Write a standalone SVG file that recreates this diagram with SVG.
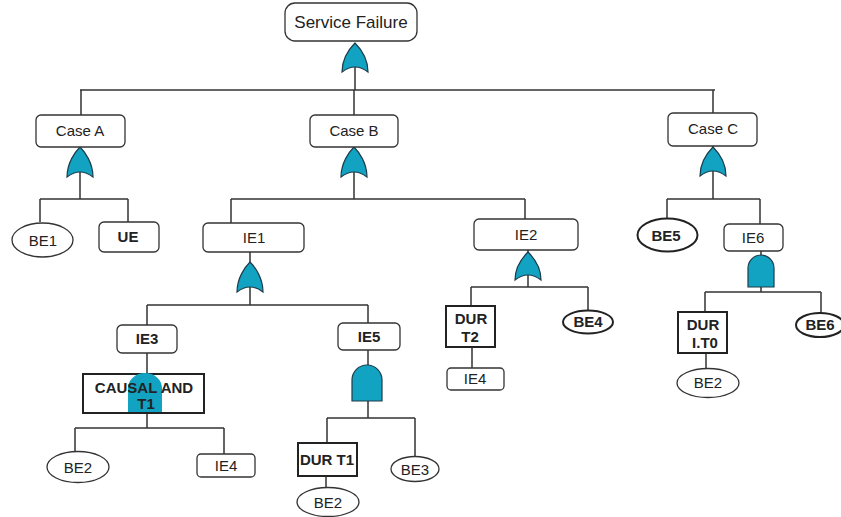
<svg xmlns="http://www.w3.org/2000/svg" width="841" height="517" viewBox="0 0 841 517">
<style>
.bx{fill:#fff;stroke:#333;stroke-width:1.3}
.sq{fill:#fff;stroke:#222;stroke-width:2}
.el{fill:#fff;stroke:#333;stroke-width:1.3}
.elb{fill:#fff;stroke:#222;stroke-width:2}
.g{fill:#12a2c2;stroke:#1d3c4a;stroke-width:1.2}
.ln{fill:none;stroke:#333;stroke-width:1.5}
text{font-family:"Liberation Sans",Arial,sans-serif;fill:#222;text-anchor:middle}
.t{font-size:15px}
.b{font-size:15px;font-weight:bold}
</style>
<rect width="841" height="517" fill="#fff"/>
<g id="connectors">
<path class="ln" d="M355,43V90M80,90H715M81,90V115M354,90V115M713,90V113"/>
<path class="ln" d="M80,147V199M40,199H128M40,199V222M128,199V222"/>
<path class="ln" d="M354,147V199M231,199H525M231,199V223M525,199V219"/>
<path class="ln" d="M713,146V199M667,199H760M667,199V218M760,199V224"/>
<path class="ln" d="M250,252V305M147,305H368M147,305V325M368,305V323"/>
<path class="ln" d="M528,250V287M471,287H588M471,287V306M588,287V310M472,347V368"/>
<path class="ln" d="M761,251V292M705,292H821M705,292V312M821,292V313M706,353V368"/>
<path class="ln" d="M147,353V374M147,412V428M75,428H224M75,428V452M224,428V454"/>
<path class="ln" d="M368,350V365M368,401V418M327,418H415M327,418V443M415,418V457M326,476V487"/>
</g>
<g id="gates">
<path class="g" d="M342,72C342,58 350,48 355,43C360,48 368,58 368,72Q355,62 342,72Z"/>
<path class="g" d="M67,177C67,163 75,152 80,147C85,152 93,163 93,177Q80,167 67,177Z"/>
<path class="g" d="M341,177C341,163 349,152 354,147C359,152 367,163 367,177Q354,167 341,177Z"/>
<path class="g" d="M700,176C700,162 708,152 713,147C718,152 726,162 726,176Q713,166 700,176Z"/>
<path class="g" d="M237,292C237,278 245,267 250,262C255,267 263,278 263,292Q250,282 237,292Z"/>
<path class="g" d="M515,280C515,266 523,257 528,252C533,257 541,266 541,280Q528,270 515,280Z"/>
<path class="g" d="M748,287V268A13,13 0 0 1 774,268V287Z"/>
<path class="g" d="M352,401V380A15,15 0 0 1 382,380V401Z"/>
</g>
<g id="n-sf"><rect class="bx" x="285" y="3" width="132" height="38" rx="10"/><text x="351" y="28" style="font-size:17px">Service Failure</text></g>
<g id="n-caseA"><rect class="bx" x="36" y="115" width="89" height="32" rx="5"/><text class="t" x="80" y="136">Case A</text></g>
<g id="n-caseB"><rect class="bx" x="310" y="115" width="88" height="32" rx="5"/><text class="t" x="354" y="136">Case B</text></g>
<g id="n-caseC"><rect class="bx" x="668" y="113" width="89" height="33" rx="5"/><text class="t" x="713" y="134">Case C</text></g>
<g id="n-be1"><ellipse class="el" cx="42.5" cy="240" rx="30.5" ry="17"/><text class="t" x="43" y="246">BE1</text></g>
<g id="n-ue"><rect class="bx" x="99" y="222" width="60" height="30" rx="5"/><text class="b" x="128" y="242">UE</text></g>
<g id="n-ie1"><rect class="bx" x="203" y="223" width="101" height="29" rx="5"/><text class="t" x="254" y="243">IE1</text></g>
<g id="n-ie2"><rect class="bx" x="474" y="219" width="104" height="31" rx="5"/><text class="t" x="526" y="240">IE2</text></g>
<g id="n-be5"><ellipse class="elb" cx="667.5" cy="235" rx="30" ry="16.5"/><text class="b" x="666" y="241">BE5</text></g>
<g id="n-ie6"><rect class="bx" x="724" y="224" width="59" height="27" rx="5"/><text class="t" x="753" y="243">IE6</text></g>
<g id="n-ie3"><rect class="bx" x="117" y="325" width="60" height="28" rx="5"/><text class="b" x="147" y="344">IE3</text></g>
<g id="n-ie5"><rect class="bx" x="338" y="323" width="62" height="27" rx="5"/><text class="b" x="369" y="342">IE5</text></g>
<g id="n-causal"><rect class="sq" x="83" y="374" width="121" height="39"/>
<path class="g" d="M128,412V388A17,15 0 0 1 162,388V412Z" style="stroke:none"/>
<text class="b" x="144" y="393">CAUSAL AND</text><text class="b" x="146" y="409">T1</text></g>
<g id="n-durt2"><rect class="sq" x="446" y="306" width="49" height="41"/><text class="b" x="471" y="324">DUR</text><text class="b" x="470" y="342">T2</text></g>
<g id="n-be4"><ellipse class="elb" cx="588" cy="322" rx="25" ry="11.5"/><text class="b" x="588" y="327">BE4</text></g>
<g id="n-ie4a"><rect class="bx" x="447" y="368" width="57" height="22" rx="4"/><text class="t" x="475" y="384">IE4</text></g>
<g id="n-durit0"><rect class="sq" x="678" y="312" width="49" height="41"/><text class="b" x="703" y="330">DUR</text><text class="b" x="705" y="348">I.T0</text></g>
<g id="n-be6"><ellipse class="elb" cx="820" cy="325" rx="24" ry="12"/><text class="b" x="820" y="330">BE6</text></g>
<g id="n-be2c"><ellipse class="el" cx="708" cy="383" rx="31" ry="14.5"/><text class="t" x="708" y="388">BE2</text></g>
<g id="n-be2a"><ellipse class="el" cx="78" cy="467" rx="31" ry="15.5"/><text class="t" x="78" y="473">BE2</text></g>
<g id="n-ie4b"><rect class="bx" x="197" y="454" width="58" height="23" rx="4"/><text class="t" x="226" y="471">IE4</text></g>
<g id="n-durt1"><rect class="sq" x="298" y="443" width="59" height="33"/><text class="b" x="327" y="465">DUR T1</text></g>
<g id="n-be3"><ellipse class="el" cx="415" cy="469" rx="24" ry="12.5"/><text class="t" x="415" y="475">BE3</text></g>
<g id="n-be2b"><ellipse class="el" cx="328" cy="502" rx="31" ry="14.5"/><text class="t" x="328" y="508">BE2</text></g>
</svg>
